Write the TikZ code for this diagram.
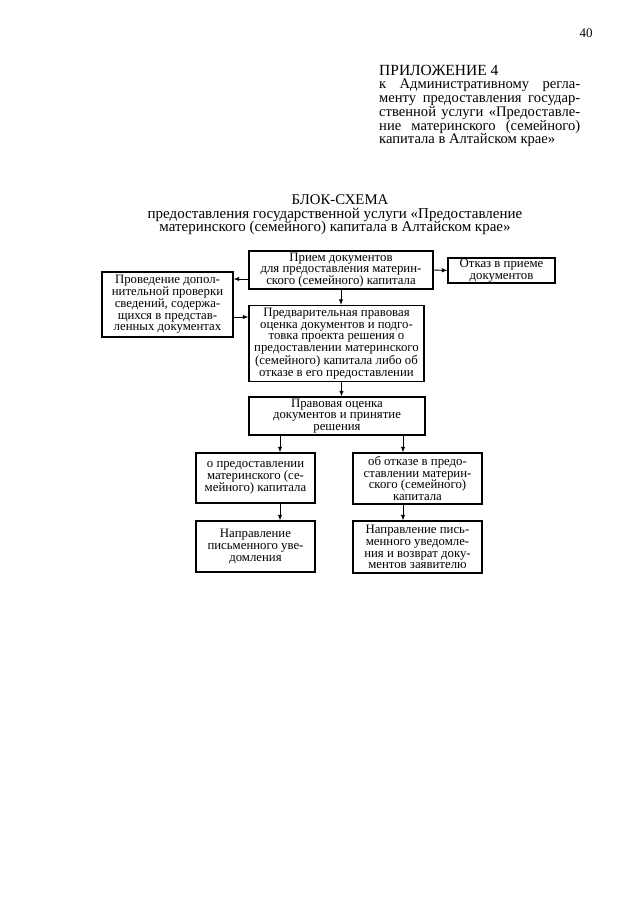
\documentclass[tikz,border=0pt]{standalone}
\usepackage{fontspec}
\setmainfont{Liberation Serif}
\usetikzlibrary{arrows.meta,calc}
\begin{document}
\begin{tikzpicture}[x=1pt,y=-1pt,
  box/.style={draw,line width=1.3pt,rectangle,align=center,inner sep=1pt,
    font=\fontsize{12.8}{11.8}\selectfont},
  arr/.style={line width=0.9pt,-{Latex[length=5.5pt,width=4.5pt]}},
  hd/.style={inner sep=0pt,anchor=base west,font=\fontsize{14.6}{14}\selectfont}]
\useasboundingbox (0,0) rectangle (640,905);
% page number and header
\node[inner sep=0pt,anchor=base,font=\fontsize{13}{14}\selectfont] (pg) at (586,37) {40};
\node[hd,font=\fontsize{15.5}{14}\selectfont] (h0) at (379,75) {ПРИЛОЖЕНИЕ 4};
\node[hd] (h1) at (379,88.5) {\makebox[201pt][s]{к Административному регла-}};
\node[hd] (h2) at (379,102.5) {\makebox[201pt][s]{менту предоставления государ-}};
\node[hd] (h3) at (379,116.5) {\makebox[201pt][s]{ственной услуги «Предоставле-}};
\node[hd] (h4) at (379,130) {\makebox[201pt][s]{ние материнского (семейного)}};
\node[hd] (h5) at (379,143.5) {капитала в Алтайском крае»};
% title
\node[inner sep=0pt,anchor=base,font=\fontsize{14.8}{15}\selectfont] (t0) at (340,204) {БЛОК-СХЕМА};
\node[inner sep=0pt,anchor=base,font=\fontsize{15}{15}\selectfont] (t1) at (335,218) {предоставления государственной услуги «Предоставление};
\node[inner sep=0pt,anchor=base,font=\fontsize{15}{15}\selectfont] (t2) at (335,231.5) {материнского (семейного) капитала в Алтайском крае»};
% boxes
\node[box,minimum width=184pt,minimum height=38pt] (priem) at (341,270) {Прием документов\\для предоставления материн-\\ского (семейного) капитала};
\node[box,minimum width=107pt,minimum height=25pt] (otkaz) at (501.5,270.5) {Отказ в приеме\\документов};
\node[box,minimum width=131pt,minimum height=65pt] (prov) at (167.5,304.5) {Проведение допол-\\нительной проверки\\сведений, содержа-\\щихся в представ-\\ленных документах};
\node[box,minimum width=175pt,minimum height=76pt] (pred) at (336.5,343.5) {Предварительная правовая\\оценка документов и подго-\\товка проекта решения о\\предоставлении материнского\\(семейного) капитала либо об\\отказе в его предоставлении};
\node[box,minimum width=176pt,minimum height=38pt] (pravo) at (337,416) {Правовая оценка\\документов и принятие\\решения};
\node[box,minimum width=119pt,minimum height=50pt] (ol) at (255.5,478) {о предоставлении\\материнского (се-\\мейного) капитала};
\node[box,minimum width=129pt,minimum height=51pt] (or) at (417.5,478.5) {об отказе в предо-\\ставлении материн-\\ского (семейного)\\капитала};
\node[box,minimum width=119pt,minimum height=51pt] (nl) at (255.5,546.5) {Направление\\письменного уве-\\домления};
\node[box,minimum width=129pt,minimum height=52pt] (nr) at (417.5,547) {Направление пись-\\менного уведомле-\\ния и возврат доку-\\ментов заявителю};
% connectors
\draw[arr] (priem.east) -- (otkaz.west);
\draw[arr] ([yshift=-9pt]priem.west) -- ([yshift=-9pt]priem.west -| prov.east);
\draw[arr] ([yshift=-12.5pt]prov.east) -- ([yshift=-12.5pt]prov.east -| pred.west);
\draw[arr] (priem.south) -- (priem.south |- pred.north);
\draw[arr] ([xshift=5pt]pred.south) -- ([xshift=5pt]pred.south |- pravo.north);
\draw[arr] ([xshift=24.5pt]ol.north |- pravo.south) -- ([xshift=24.5pt]ol.north);
\draw[arr] ([xshift=-14.5pt]or.north |- pravo.south) -- ([xshift=-14.5pt]or.north);
\draw[arr] ([xshift=24.5pt]ol.south) -- ([xshift=24.5pt]ol.south |- nl.north);
\draw[arr] ([xshift=-14.5pt]or.south) -- ([xshift=-14.5pt]or.south |- nr.north);
\end{tikzpicture}
\end{document}
